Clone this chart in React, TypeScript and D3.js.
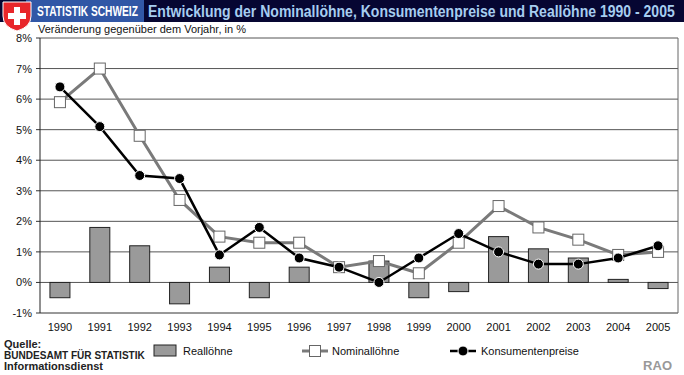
import React, { useLayoutEffect, useRef, useState } from "react";
import * as d3 from "d3";

const years = ["1990","1991","1992","1993","1994","1995","1996","1997","1998","1999","2000","2001","2002","2003","2004","2005"];
const realLoehne = [-0.5, 1.8, 1.2, -0.7, 0.5, -0.5, 0.5, 0.0, 0.7, -0.5, -0.3, 1.5, 1.1, 0.8, 0.1, -0.2];
const nominalLoehne = [5.9, 7.0, 4.8, 2.7, 1.5, 1.3, 1.3, 0.5, 0.7, 0.3, 1.3, 2.5, 1.8, 1.4, 0.9, 1.0];
const konsumentenpreise = [6.4, 5.1, 3.5, 3.4, 0.9, 1.8, 0.8, 0.5, 0.0, 0.8, 1.6, 1.0, 0.6, 0.6, 0.8, 1.2];
const yTicks = [-1, 0, 1, 2, 3, 4, 5, 6, 7, 8];

const W = 684, H = 375;
const L = 40, R = 678, T = 38, B = 313;
const FONT = "Liberation Sans, Arial, sans-serif";

function FitText(props: { x: number; y: number; width: number; fontSize: number; fill: string; bold?: boolean; children: string }) {
  const ref = useRef<SVGTextElement>(null);
  const [sx, setSx] = useState(1);
  useLayoutEffect(() => {
    if (ref.current) {
      const w = ref.current.getComputedTextLength();
      if (w > 0) setSx(props.width / w);
    }
  }, [props.width, props.children]);
  return (
    <text ref={ref} transform={`translate(${props.x},${props.y}) scale(${sx},1)`} fontSize={props.fontSize}
      fontWeight={props.bold ? "bold" : "normal"} fill={props.fill}>{props.children}</text>
  );
}

export default function App() {
  const x = d3.scaleBand<string>().domain(years).range([L, R]);
  const y = d3.scaleLinear().domain([-1, 8]).range([B, T]);
  const cx = (yr: string) => (x(yr) as number) + x.bandwidth() / 2;
  const barW = 20;

  const line = d3.line<number>().x((_, i) => cx(years[i])).y(d => y(d));

  return (
    <svg width={W} height={H} style={{ position: "absolute", left: 0, top: 0, background: "#fff" }} fontFamily={FONT}>
      {/* header */}
      <rect x={0} y={0} width={W} height={22} fill="#060632" />
      <rect x={26} y={0} width={118} height={22} fill="#3157a6" />
      <FitText x={37} y={16} width={101} fontSize={14} fill="#fff" bold>STATISTIK SCHWEIZ</FitText>
      <FitText x={148} y={17} width={527} fontSize={17} fill="#a6cdf0" bold>Entwicklung der Nominallöhne, Konsumentenpreise und Reallöhne 1990 - 2005</FitText>
      {/* logo shield */}
      <path d="M3,2 L31,2 L31,16 Q31,27 17,31 Q3,27 3,16 Z" fill="#e8262a" stroke="#fff" strokeWidth={1} />
      <rect x={14} y={7} width={6} height={18} fill="#fff" />
      <rect x={8} y={13} width={18} height={6} fill="#fff" />

      <text x={38} y={33} fontSize={11} fill="#111">Veränderung gegenüber dem Vorjahr, in %</text>

      {/* grid */}
      {yTicks.map(t => (
        <g key={t}>
          <line x1={L} x2={R} y1={y(t)} y2={y(t)} stroke={t === -1 ? "#333" : "#555"} strokeWidth={1} />
          <line x1={L - 4} x2={L} y1={y(t)} y2={y(t)} stroke="#333" />
          <text x={L - 8} y={y(t) + 4} fontSize={11} textAnchor="end" fill="#111">{t}%</text>
        </g>
      ))}
      <line x1={L} x2={L} y1={T} y2={B} stroke="#222" />
      <line x1={R} x2={R} y1={T} y2={B} stroke="#666" />

      {/* bars */}
      {realLoehne.map((v, i) => (
        <rect key={i} x={cx(years[i]) - barW / 2} y={Math.min(y(v), y(0))} width={barW}
          height={Math.abs(y(v) - y(0))} fill="#9a9a9a" stroke="#222" strokeWidth={1} />
      ))}

      {/* lines */}
      <path d={line(nominalLoehne) || ""} fill="none" stroke="#7a7a7a" strokeWidth={3} />
      {nominalLoehne.map((v, i) => (
        <rect key={i} x={cx(years[i]) - 5.5} y={y(v) - 5.5} width={11} height={11} fill="#fff" stroke="#666" strokeWidth={1} />
      ))}
      <path d={line(konsumentenpreise) || ""} fill="none" stroke="#000" strokeWidth={2.5} />
      {konsumentenpreise.map((v, i) => (
        <circle key={i} cx={cx(years[i])} cy={y(v)} r={5} fill="#000" stroke="#fff" strokeWidth={1} />
      ))}

      {/* x labels */}
      {years.map(yr => (
        <text key={yr} x={cx(yr)} y={331} fontSize={11} textAnchor="middle" fill="#111">{yr}</text>
      ))}

      {/* source */}
      <text x={4} y={348} fontSize={11} fontWeight="bold" fill="#222">Quelle:</text>
      <FitText x={4} y={359} width={141} fontSize={10.5} fill="#222" bold>BUNDESAMT FÜR STATISTIK</FitText>
      <text x={4} y={370} fontSize={11} fontWeight="bold" fill="#222">Informationsdienst</text>

      {/* legend */}
      <rect x={154} y={345} width={22} height={11} fill="#9a9a9a" stroke="#222" />
      <text x={183} y={355} fontSize={11} fill="#111">Reallöhne</text>
      <line x1={302} x2={328} y1={351} y2={351} stroke="#7a7a7a" strokeWidth={3} />
      <rect x={309.5} y={345.5} width={11} height={11} fill="#fff" stroke="#666" />
      <text x={332} y={355} fontSize={11} fill="#111">Nominallöhne</text>
      <line x1={450} x2={476} y1={351} y2={351} stroke="#000" strokeWidth={2.5} />
      <circle cx={463} cy={351} r={5} fill="#000" stroke="#fff" />
      <text x={481} y={355} fontSize={11} fill="#111">Konsumentenpreise</text>

      <text x={672} y={370} fontSize={13} fontWeight="bold" fill="#999" textAnchor="end">RAO</text>
    </svg>
  );
}
